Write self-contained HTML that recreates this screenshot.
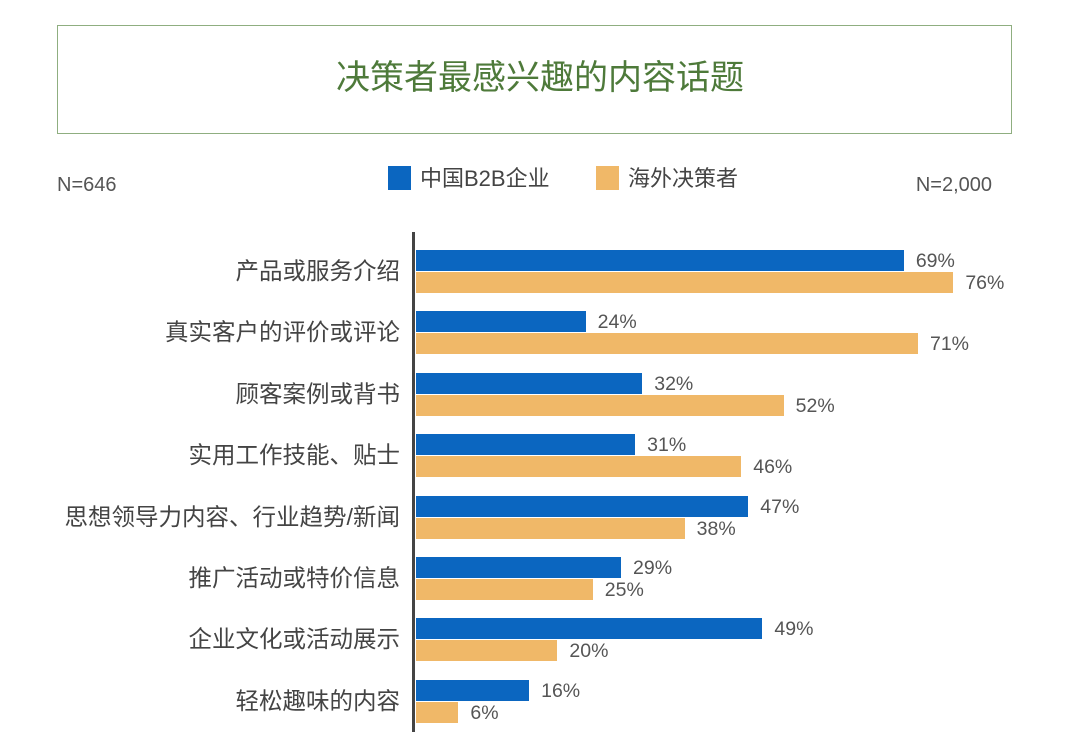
<!DOCTYPE html>
<html><head><meta charset="utf-8"><style>
body{margin:0;width:1080px;height:752px;background:#fff;position:relative;overflow:hidden;font-family:"Liberation Sans","Noto Sans CJK SC",sans-serif;color:#555}
.a{position:absolute;white-space:nowrap}
.box{left:57px;top:25px;width:953px;height:107px;border:1.5px solid #8fae80}
.title{left:0;width:1080px;top:56px;text-align:center;font-size:34px;color:#4e7a3a;line-height:44px}
.lab{right:680px;font-size:23.5px;line-height:30px;text-align:right;color:#444}
.b{position:absolute;left:416px;height:21px;background:#0b66c0}
.o{position:absolute;left:416px;height:21px;background:#f0b868}
.v{position:absolute;font-size:19.5px;line-height:21px;color:#555}
</style></head><body>
<div class="a box"></div>
<div class="a title">决策者最感兴趣的内容话题</div>
<div class="a" style="left:57px;top:172px;font-size:20px;line-height:26px">N=646</div>
<div class="a" style="right:88px;top:172px;font-size:20px;line-height:26px">N=2,000</div>
<div class="a" style="left:388px;top:166px;width:23px;height:24px;background:#0b66c0"></div>
<div class="a" style="left:420px;top:165px;font-size:22px;line-height:28px;color:#444">中国B2B企业</div>
<div class="a" style="left:596px;top:166px;width:23px;height:24px;background:#f0b868"></div>
<div class="a" style="left:628px;top:165px;font-size:22px;line-height:28px;color:#444">海外决策者</div>
<div class="a" style="left:412px;top:232px;width:3px;height:500px;background:#444"></div>
<div id="rows"></div>
<script>
var d=[["产品或服务介绍",69,76],["真实客户的评价或评论",24,71],["顾客案例或背书",32,52],["实用工作技能、贴士",31,46],["思想领导力内容、行业趋势/新闻",47,38],["推广活动或特价信息",29,25],["企业文化或活动展示",49,20],["轻松趣味的内容",16,6]];
var h="",s=7.07;
d.forEach(function(r,i){var y=250+i*61.4;
h+='<div class="a lab" style="top:'+(y+6)+'px">'+r[0]+'</div>';
h+='<div class="b" style="top:'+y+'px;width:'+(r[1]*s)+'px"></div>';
h+='<div class="o" style="top:'+(y+22)+'px;width:'+(r[2]*s)+'px"></div>';
h+='<div class="v" style="top:'+(y+1)+'px;left:'+(416+r[1]*s+12)+'px">'+r[1]+'%</div>';
h+='<div class="v" style="top:'+(y+23)+'px;left:'+(416+r[2]*s+12)+'px">'+r[2]+'%</div>';});
document.getElementById("rows").innerHTML=h;
</script>
</body></html>
